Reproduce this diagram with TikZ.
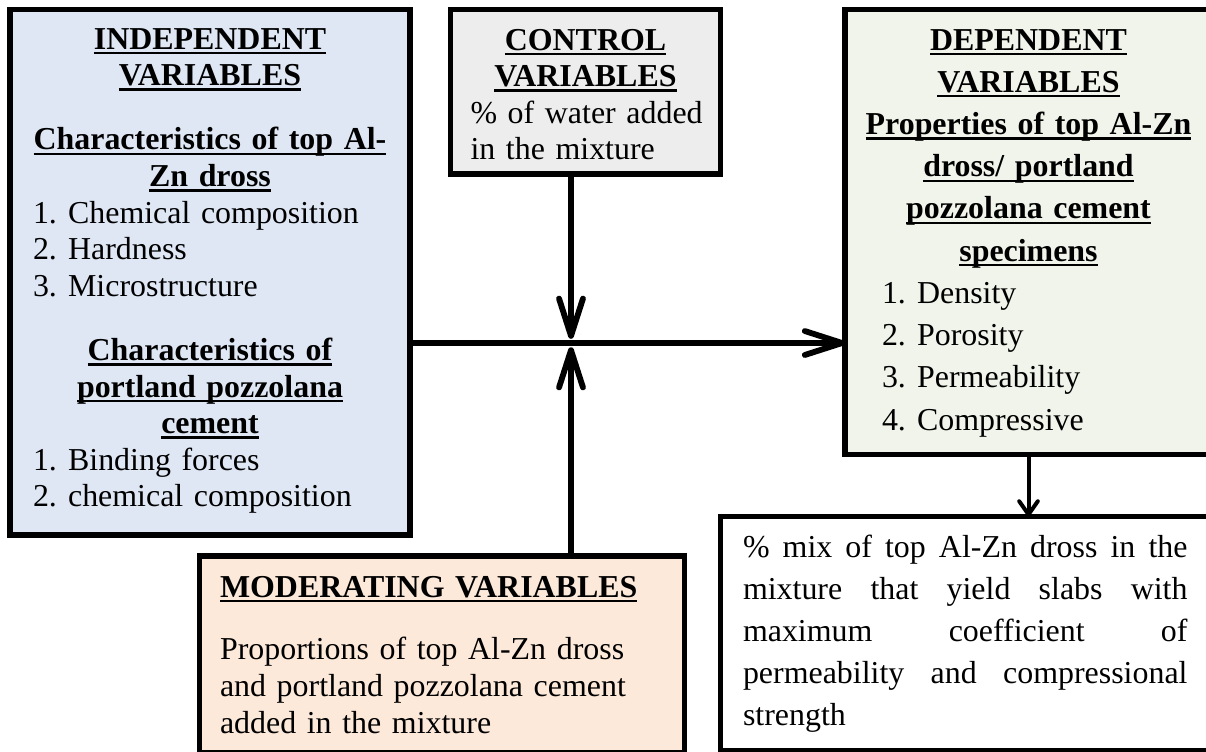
\documentclass[tikz,border=0pt]{standalone}
\usepackage{fontspec}
\setmainfont{Liberation Serif}
\usetikzlibrary{arrows.meta}
\definecolor{indepfill}{HTML}{DFE7F5}
\definecolor{ctrlfill}{HTML}{EDEDED}
\definecolor{depfill}{HTML}{F1F4EA}
\definecolor{modfill}{HTML}{FDE9D9}
\newsavebox{\hdbox}
\newcommand{\hd}[1]{\leavevmode\sbox{\hdbox}{\bfseries #1}\rlap{\rule[-1.95pt]{\wd\hdbox}{0.9pt}}\usebox{\hdbox}}
\newcommand{\numitem}[2]{\makebox[13.2pt][l]{#1}#2\par}
\tikzset{
    varbox/.style={rectangle, draw=black, line width=1.9pt, anchor=north west, outer sep=0pt, inner ysep=0pt, font=\fontsize{12}{13.76}\selectfont},
    conn/.style={line width=2.2pt, -{Straight Barb[length=14pt,width=9pt,round]}},
    thinconn/.style={line width=1.5pt, -{Straight Barb[length=5pt,width=7pt,round]}}
}

\begin{document}
\begin{tikzpicture}[x=0.376pt, y=-0.376pt]
    \useasboundingbox (0, 0) rectangle (1206, 751);

    \node (indep) [varbox, fill=indepfill, inner xsep=8.65pt, text width=133.1pt, text height=14.85pt, text depth=182.74pt] at (10, 9.5) {%
        {\centering\hd{INDEPENDENT}\\\hd{VARIABLES}\par}
        \vspace{10.4pt}
        {\centering\hd{Characteristics of top Al-}\\\hd{Zn dross}\par}
        \numitem{1.}{Chemical composition}
        \numitem{2.}{Hardness}
        \numitem{3.}{Microstructure}
        \vspace{10.4pt}
        {\centering\hd{Characteristics of}\\\hd{portland pozzolana}\\\hd{cement}\par}
        \numitem{1.}{Binding forces}
        \numitem{2.}{chemical composition}};

    \node (ctrl) [varbox, fill=ctrlfill, inner xsep=7.52pt, text width=86.48pt, text height=15.23pt, text depth=46.62pt] at (450.5, 9.5) {%
        {\centering\hd{CONTROL}\\\hd{VARIABLES}\par}
        \makebox[\linewidth][l]{\% of water added}\par
        in the mixture};

    \node (dep) [varbox, fill=depfill, inner xsep=7.52pt, text width=122.95pt, text height=15.23pt, text depth=152.09pt, font=\fontsize{12}{15.88}\selectfont] at (845, 9.5) {%
        {\centering\hd{DEPENDENT}\\\hd{VARIABLES}\\\hd{Properties of top Al-Zn}\\\hd{dross/ portland}\\\hd{pozzolana cement}\\\hd{specimens}\par}
        {\leftskip=6.4pt
        \numitem{1.}{Density}
        \numitem{2.}{Porosity}
        \numitem{3.}{Permeability}
        \numitem{4.}{Compressive}}};

    \node (mod) [varbox, fill=modfill, inner xsep=7.71pt, text width=166.94pt, text height=15.42pt, text depth=58.28pt] at (199.5, 556) {%
        \hd{MODERATING VARIABLES}\par
        \vspace{9.9pt}
        Proportions of top Al-Zn dross\\
        and portland pozzolana cement\\
        added in the mixture};

    \node (res) [varbox, fill=white, align=justify, inner xsep=8.46pt, text width=167.13pt, text height=15.23pt, text depth=72.94pt, font=\fontsize{12}{15.8}\selectfont] at (720.5, 516.5) {%
        \tolerance=10000
        \% mix of top Al-Zn dross in the\linebreak
        mixture that yield slabs with\linebreak
        maximum coefficient of\linebreak
        permeability and compressional\linebreak
        strength};

    \coordinate (junc) at (571, 343);

    \draw [conn, shorten >=1.6pt] (ctrl.south -| junc) -- (junc);
    \draw [conn, shorten >=1.6pt] (mod.north -| junc) -- (junc);
    \draw [conn] (indep.east |- junc) -- (dep.west |- junc);
    \draw [thinconn] (dep.south) -- (dep.south |- res.north);
\end{tikzpicture}
\end{document}
